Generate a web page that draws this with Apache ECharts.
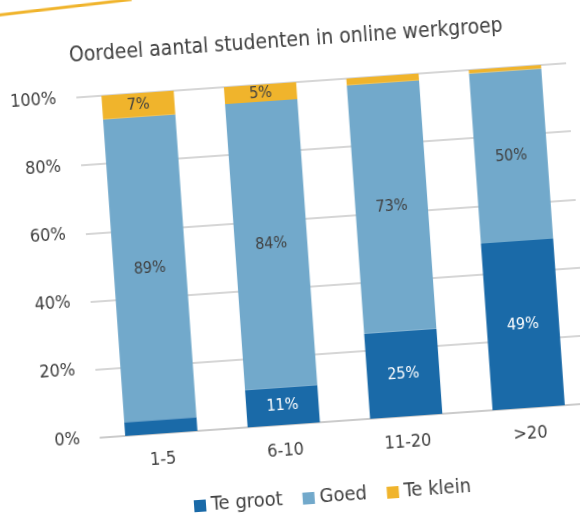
<!DOCTYPE html>
<html>
<head>
<meta charset="utf-8">
<script src="https://cdn.jsdelivr.net/npm/echarts@6/dist/echarts.min.js"></script>
<style>
  html, body { margin: 0; padding: 0; background: #fff; overflow: hidden; width: 580px; height: 515px; }
  /* the slide in the photo is tilted a few degrees, so the chart is bigger than the window and rotated */
  #chart {
    position: absolute;
    left: -60px; top: -60px;
    width: 700px; height: 635px;
    transform: rotate(-4deg);
    transform-origin: 50% 50%;
  }
</style>
</head>
<body>
<div id="chart"></div>
<script>
const categories = ['1-5', '6-10', '11-20', '>20']
const teGroot = [4, 11, 25, 49]
const goed = [89, 84, 73, 50]
const teKlein = [7, 5, 2, 1]
// only these got a label in the original
const grootLabel = [false, true, true, true]
const kleinLabel = [true, true, false, false]
const yTicks = [0, 20, 40, 60, 80, 100]

const FONT = '"DejaVu Sans Condensed", "DejaVu Sans", sans-serif'
const TXT = '#404040'

const myChart = echarts.init(document.getElementById('chart'))

const mkData = (vals, flags, color) => vals.map((v, i) => ({
    value: v,
    label: { show: flags ? flags[i] : true, color: color }
}))

const option = {
    backgroundColor: '#fff',
    animation: false,
    textStyle: { fontFamily: FONT },
    title: {
        text: 'Oordeel aantal studenten in online werkgroep',
        left: 356,
        top: 86,
        textAlign: 'center',
        textStyle: { fontFamily: FONT, fontSize: 21, fontWeight: 'normal', color: TXT }
    },
    legend: {
        left: 232,
        top: 544,
        itemWidth: 12,
        itemHeight: 12,
        itemGap: 20,
        icon: 'rect',
        textStyle: { fontFamily: FONT, fontSize: 20, color: TXT },
        data: ['Te groot', 'Goed', 'Te klein']
    },
    grid: {
        left: 148,
        top: 143,
        width: 491,
        height: 341
    },
    xAxis: {
        type: 'category',
        data: categories,
        axisLine: { lineStyle: { color: '#c8c8c8', width: 1.5 } },
        axisTick: { show: false },
        axisLabel: { color: TXT, fontSize: 18, fontFamily: FONT, margin: 17 }
    },
    yAxis: {
        type: 'value',
        min: 0,
        max: 100,
        interval: 20,
        axisLine: { show: false },
        axisTick: { show: false },
        axisLabel: {
            color: TXT, fontSize: 18, fontFamily: FONT, margin: 20,
            formatter: v => yTicks.includes(v) ? v + '%' : ''
        },
        splitLine: { lineStyle: { color: '#c8c8c8', width: 1.5 } }
    },
    series: [
        {
            name: 'Te groot',
            type: 'bar',
            stack: 'tot',
            barWidth: '59%',
            itemStyle: { color: '#1a6aa8' },
            label: { position: 'inside', formatter: '{c}%', fontSize: 16, fontFamily: FONT },
            data: mkData(teGroot, grootLabel, '#fff')
        },
        {
            name: 'Goed',
            type: 'bar',
            stack: 'tot',
            itemStyle: { color: '#72a9cb' },
            label: { position: 'inside', formatter: '{c}%', fontSize: 16, fontFamily: FONT },
            data: mkData(goed, null, TXT)
        },
        {
            name: 'Te klein',
            type: 'bar',
            stack: 'tot',
            itemStyle: { color: '#f0b42c' },
            label: { position: 'inside', formatter: '{c}%', fontSize: 16, fontFamily: FONT },
            data: mkData(teKlein, kleinLabel, TXT)
        }
    ],
    graphic: [
        {
            // orange rule of the slide, top left corner
            type: 'line',
            shape: { x1: 20, y1: 58, x2: 210, y2: 49 },
            style: { stroke: '#f0b42c', lineWidth: 3 }
        }
    ]
}
myChart.setOption(option)
window.addEventListener('resize', () => myChart.resize())
</script>
</body>
</html>
